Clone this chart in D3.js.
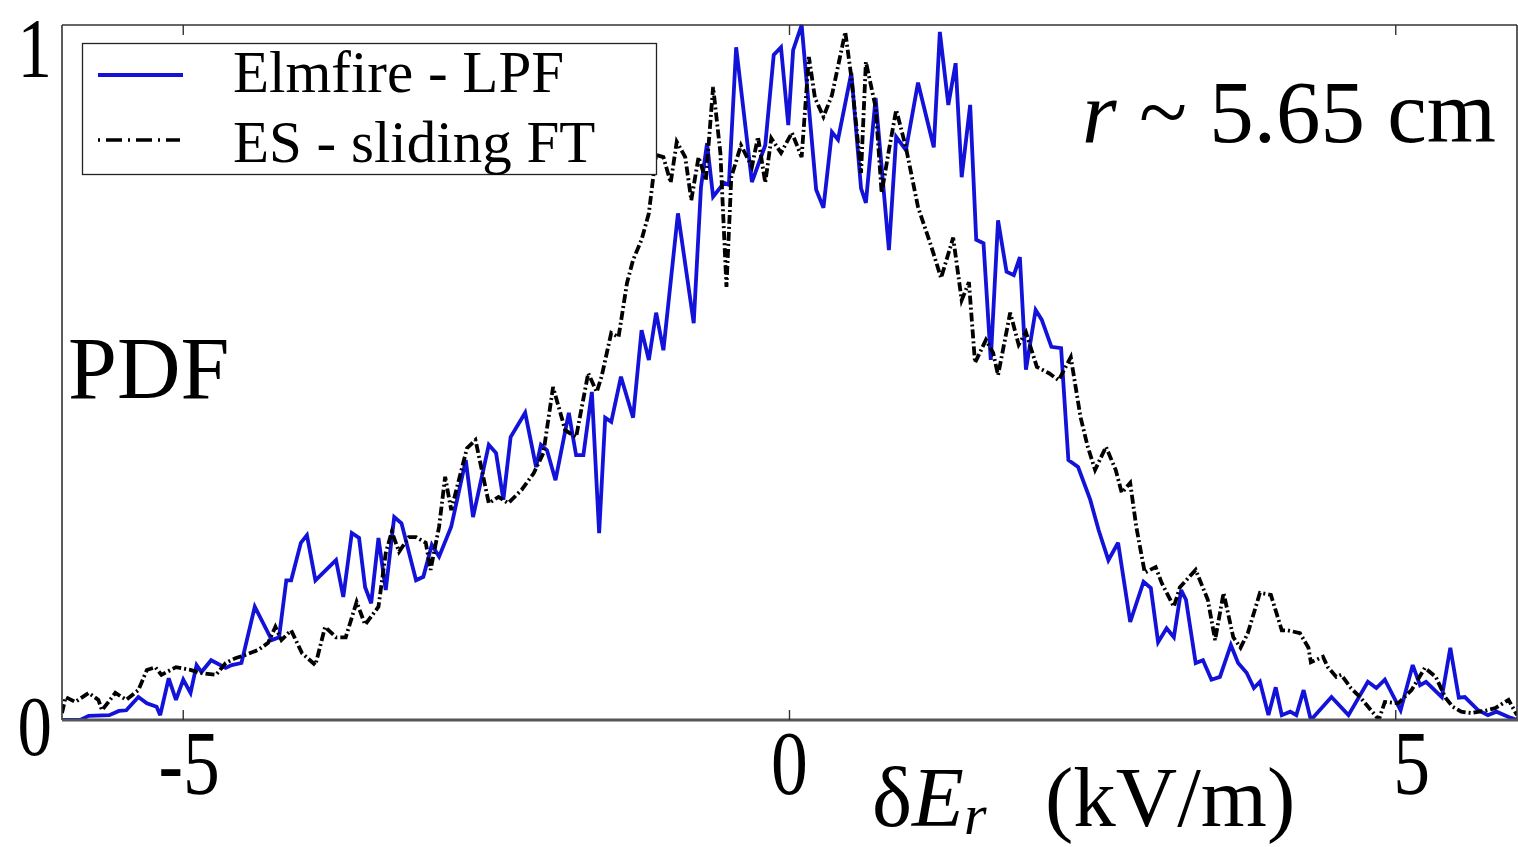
<!DOCTYPE html>
<html>
<head>
<meta charset="utf-8">
<script src="https://cdn.jsdelivr.net/npm/d3@7"></script>
<style>
  html, body { margin: 0; padding: 0; background: #fff; }
  svg { display: block; }
</style>
</head>
<body>
<svg id="chart" width="1518" height="847"></svg>
<script>
// Elmfire (low-pass filtered) PDF of radial electric field fluctuation
const elmfireX = [-6.00,-5.85,-5.78,-5.61,-5.53,-5.47,-5.37,-5.30,-5.22,-5.19,-5.12,-5.06,-5.00,-4.94,-4.89,-4.85,-4.77,-4.65,-4.60,-4.52,
  -4.41,-4.27,-4.21,-4.15,-4.11,-4.03,-3.98,-3.91,-3.74,-3.68,-3.61,-3.55,-3.50,-3.45,-3.39,-3.33,-3.26,-3.20,-3.08,-3.02,
  -2.95,-2.89,-2.79,-2.67,-2.61,-2.48,-2.42,-2.36,-2.30,-2.18,-2.09,-2.05,-2.00,-1.93,-1.82,-1.76,-1.70,-1.63,-1.57,-1.52,
  -1.47,-1.39,-1.29,-1.22,-1.16,-1.10,-1.04,-0.92,-0.79,-0.73,-0.68,-0.63,-0.54,-0.50,-0.44,-0.31,-0.20,-0.13,-0.07,-0.01,
  0.03,0.10,0.22,0.28,0.35,0.40,0.51,0.59,0.63,0.71,0.82,0.88,0.96,1.06,1.19,1.24,1.31,1.37,1.42,1.49,
  1.54,1.60,1.66,1.72,1.79,1.85,1.90,1.95,2.03,2.08,2.16,2.24,2.30,2.38,2.48,2.55,2.63,2.71,2.81,2.92,
  2.98,3.04,3.11,3.17,3.23,3.27,3.35,3.41,3.48,3.55,3.64,3.70,3.77,3.83,3.88,3.95,4.01,4.06,4.13,4.18,
  4.24,4.30,4.47,4.61,4.77,4.84,4.91,5.04,5.14,5.20,5.25,5.38,5.45,5.52,5.57,5.68,5.76,5.83,5.95,6.00];
const elmfireY = [0.000,0.000,0.006,0.007,0.013,0.014,0.033,0.024,0.019,0.007,0.060,0.029,0.058,0.039,0.079,0.069,0.086,0.075,0.079,0.082,
  0.163,0.115,0.119,0.201,0.201,0.255,0.266,0.201,0.230,0.177,0.269,0.262,0.191,0.168,0.262,0.187,0.292,0.283,0.201,0.206,
  0.252,0.235,0.278,0.374,0.292,0.396,0.384,0.317,0.407,0.442,0.364,0.396,0.388,0.345,0.442,0.381,0.381,0.472,0.269,0.435,
  0.429,0.494,0.435,0.561,0.518,0.586,0.532,0.729,0.571,0.767,0.830,0.753,0.773,0.770,0.968,0.774,0.827,0.957,0.968,0.856,
  0.964,1.000,0.763,0.737,0.846,0.835,0.931,0.765,0.744,0.895,0.676,0.839,0.820,0.917,0.824,0.990,0.885,0.945,0.781,0.885,
  0.691,0.686,0.518,0.719,0.645,0.640,0.666,0.504,0.590,0.576,0.537,0.535,0.374,0.364,0.317,0.273,0.230,0.255,0.141,0.199,
  0.190,0.112,0.132,0.119,0.187,0.173,0.082,0.086,0.058,0.062,0.108,0.082,0.068,0.046,0.055,0.007,0.047,0.007,0.012,0.007,
  0.043,0.000,0.033,0.007,0.055,0.046,0.058,0.014,0.079,0.050,0.055,0.033,0.104,0.032,0.033,0.014,0.007,0.012,0.003,0.000];

// Experimental (sliding Fourier transform) PDF
const esX = [-6.00,-5.97,-5.89,-5.78,-5.70,-5.67,-5.56,-5.47,-5.37,-5.30,-5.23,-5.18,-5.06,-4.94,-4.87,-4.73,-4.65,-4.57,-4.48,-4.38,
  -4.30,-4.24,-4.19,-4.11,-4.02,-3.91,-3.83,-3.74,-3.66,-3.57,-3.50,-3.39,-3.33,-3.28,-3.22,-3.14,-3.08,-3.00,-2.96,-2.89,
  -2.84,-2.79,-2.66,-2.59,-2.48,-2.40,-2.32,-2.21,-2.11,-2.03,-1.95,-1.89,-1.85,-1.76,-1.66,-1.59,-1.55,-1.47,-1.41,-1.34,
  -1.29,-1.22,-1.16,-1.12,-1.10,-1.04,-0.98,-0.93,-0.86,-0.81,-0.75,-0.69,-0.63,-0.57,-0.52,-0.48,-0.40,-0.31,-0.26,-0.20,
  -0.15,-0.07,0.02,0.10,0.16,0.21,0.28,0.35,0.46,0.51,0.59,0.63,0.71,0.76,0.82,0.88,0.96,1.06,1.17,1.25,
  1.35,1.42,1.48,1.53,1.62,1.68,1.72,1.82,1.89,1.95,2.04,2.14,2.22,2.32,2.40,2.46,2.52,2.61,2.69,2.74,
  2.81,2.86,2.93,3.02,3.07,3.17,3.22,3.35,3.45,3.51,3.58,3.66,3.72,3.78,3.88,3.97,4.06,4.11,4.21,4.28,
  4.30,4.40,4.44,4.51,4.55,4.63,4.71,4.83,4.86,4.91,5.02,5.13,5.24,5.33,5.41,5.47,5.54,5.62,5.75,5.82,
  5.93,6.00];
const esY = [0.010,0.033,0.026,0.039,0.029,0.014,0.039,0.029,0.043,0.072,0.076,0.065,0.076,0.072,0.068,0.065,0.082,0.089,0.094,0.101,
  0.111,0.134,0.115,0.129,0.096,0.079,0.134,0.119,0.119,0.170,0.137,0.163,0.240,0.271,0.242,0.263,0.263,0.255,0.216,0.278,
  0.350,0.302,0.391,0.403,0.312,0.321,0.312,0.331,0.355,0.384,0.479,0.442,0.417,0.407,0.499,0.472,0.494,0.557,0.551,0.629,
  0.662,0.691,0.729,0.787,0.813,0.810,0.773,0.832,0.810,0.748,0.810,0.777,0.911,0.816,0.623,0.781,0.827,0.796,0.839,0.773,
  0.837,0.816,0.845,0.810,0.954,0.895,0.868,0.899,0.990,0.925,0.787,0.947,0.882,0.758,0.820,0.878,0.824,0.738,0.681,0.636,
  0.694,0.604,0.630,0.514,0.547,0.528,0.496,0.586,0.540,0.558,0.508,0.499,0.489,0.522,0.436,0.393,0.360,0.393,0.360,0.327,
  0.341,0.278,0.212,0.220,0.197,0.163,0.191,0.216,0.173,0.115,0.183,0.119,0.104,0.125,0.183,0.180,0.129,0.129,0.125,0.104,
  0.083,0.091,0.076,0.062,0.065,0.046,0.032,0.007,0.000,0.026,0.024,0.043,0.075,0.062,0.032,0.019,0.012,0.010,0.014,0.017,
  0.029,0.007];

const xTicks = [-5, 0, 5];
const yTicks = [0, 1];
const xTickLabels = ["-5", "0", "5"];
const yTickLabels = ["0", "1"];
const seriesNames = ["Elmfire - LPF", "ES - sliding FT"];

const W = 1518, H = 847;
const plot = { left: 62, right: 1517, top: 25, bottom: 720 };
const SERIF = "'Liberation Serif', 'Times New Roman', Times, 'DejaVu Serif', serif";

const svg = d3.select("#chart")
  .attr("font-family", SERIF)
  .style("font-family", SERIF);
svg.append("rect").attr("width", W).attr("height", H).attr("fill", "#fff");

const x = d3.scaleLinear().domain([-6, 6]).range([plot.left, plot.right]);
const y = d3.scaleLinear().domain([0, 1]).range([plot.bottom, plot.top]);

svg.append("defs").append("clipPath").attr("id", "plotClip")
  .append("rect")
  .attr("x", plot.left).attr("y", plot.top - 4)
  .attr("width", plot.right - plot.left).attr("height", plot.bottom - plot.top + 4);

const line = d3.line().x(d => x(d[0])).y(d => y(d[1]));

const lines = svg.append("g").attr("clip-path", "url(#plotClip)");

lines.append("path")
  .datum(d3.zip(elmfireX, elmfireY))
  .attr("d", line)
  .attr("fill", "none")
  .attr("stroke", "#1212d8")
  .attr("stroke-width", 3.8)
  .attr("stroke-linejoin", "miter")
  .attr("stroke-miterlimit", 3);

lines.append("path")
  .datum(d3.zip(esX, esY))
  .attr("d", line)
  .attr("fill", "none")
  .attr("stroke", "#000")
  .attr("stroke-width", 3.8)
  .attr("stroke-dasharray", "9,3,2,3");

// Axes frame
const frame = svg.append("g");
frame.append("line").attr("x1", plot.left).attr("x2", plot.right).attr("y1", plot.top).attr("y2", plot.top)
  .attr("stroke", "#333").attr("stroke-width", 1.6);
frame.append("line").attr("x1", plot.left).attr("x2", plot.left).attr("y1", plot.top).attr("y2", plot.bottom)
  .attr("stroke", "#333").attr("stroke-width", 1.6);
frame.append("line").attr("x1", plot.right).attr("x2", plot.right).attr("y1", plot.top).attr("y2", plot.bottom)
  .attr("stroke", "#333").attr("stroke-width", 1.6);
frame.append("line").attr("x1", plot.left).attr("x2", plot.right + 1).attr("y1", plot.bottom).attr("y2", plot.bottom)
  .attr("stroke", "#555").attr("stroke-width", 3);

// Inward tick marks on bottom and top
xTicks.forEach(v => {
  frame.append("line").attr("x1", x(v)).attr("x2", x(v)).attr("y1", plot.bottom).attr("y2", plot.bottom - 10)
    .attr("stroke", "#333").attr("stroke-width", 1.4);
  frame.append("line").attr("x1", x(v)).attr("x2", x(v)).attr("y1", plot.top).attr("y2", plot.top + 10)
    .attr("stroke", "#333").attr("stroke-width", 1.4);
});

// Tick labels (tall, narrow numerals)
const xLabelShift = { "-5": 6, "0": 0, "5": 16 };
xTicks.forEach((v, i) => {
  svg.append("text")
    .attr("transform", `translate(${x(v) + xLabelShift[xTickLabels[i]]},794) scale(0.8,1)`)
    .attr("text-anchor", "middle")
    .attr("font-size", 92)
    .text(xTickLabels[i]);
});
const yLabelBase = { "0": 755, "1": 77 };
yTicks.forEach((v, i) => {
  svg.append("text")
    .attr("transform", `translate(52,${yLabelBase[yTickLabels[i]]}) scale(0.82,1)`)
    .attr("text-anchor", "end")
    .attr("font-size", 84)
    .text(yTickLabels[i]);
});

// Axis labels
svg.append("text").attr("x", 68).attr("y", 398).attr("font-size", 88).text("PDF");

const xl = svg.append("text").attr("x", 872).attr("y", 826).attr("font-size", 85);
xl.append("tspan").text("δ");
xl.append("tspan").attr("font-style", "italic").text("E");
xl.append("tspan").attr("font-style", "italic").attr("font-size", 58).attr("dy", 8).text("r");
xl.append("tspan").attr("x", 1045).attr("dy", -8).text("(kV/m)");

// Radius annotation
const ann = svg.append("text").attr("x", 1082).attr("y", 142).attr("font-size", 89);
ann.append("tspan").attr("font-style", "italic").text("r");
ann.append("tspan").text(" ~ 5.65 cm");

// Legend
const lg = svg.append("g");
lg.append("rect").attr("x", 82.5).attr("y", 43.5).attr("width", 574).attr("height", 131)
  .attr("fill", "#fff").attr("stroke", "#222").attr("stroke-width", 1.3);
lg.append("line").attr("x1", 98).attr("x2", 183).attr("y1", 75).attr("y2", 75)
  .attr("stroke", "#1212d8").attr("stroke-width", 3.8);
lg.append("line").attr("x1", 98).attr("x2", 180).attr("y1", 140).attr("y2", 140)
  .attr("stroke", "#000").attr("stroke-width", 3.4).attr("stroke-dasharray", "2,6,16,6");
lg.append("text").attr("x", 233).attr("y", 92).attr("font-size", 59).text(seriesNames[0]);
lg.append("text").attr("x", 233).attr("y", 162).attr("font-size", 59).text(seriesNames[1]);
</script>
</body>
</html>
